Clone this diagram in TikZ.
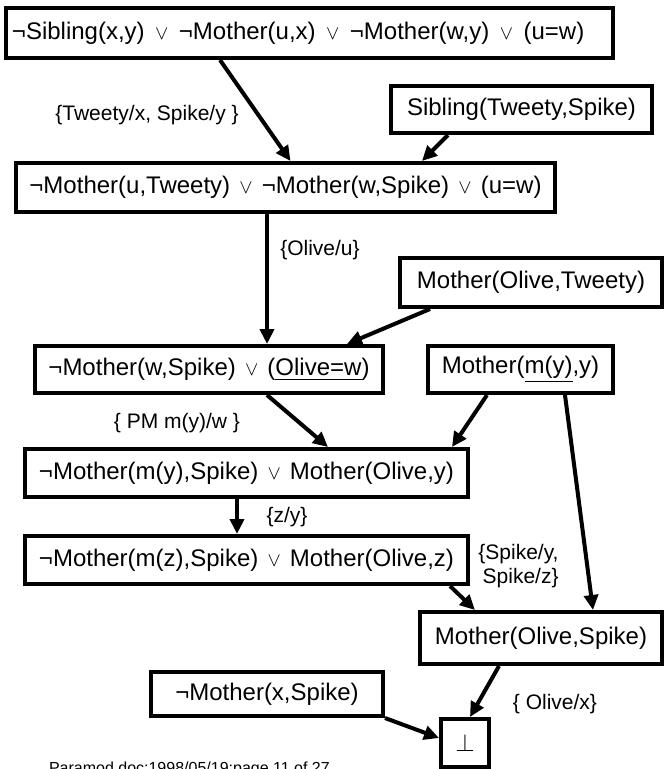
\documentclass[tikz,border=0pt]{standalone}
\usepackage{amsmath,amssymb}
\usepackage{fontspec}
\setmainfont{Liberation Sans}
\usepackage{graphicx}
\usepackage{tikz}
\usetikzlibrary{arrows.meta}

\newcommand{\vor}{\hspace{2.5pt}\scalebox{0.8}{$\vee$}\hspace{2.5pt}}

\begin{document}
\begin{tikzpicture}[->,>={Triangle[length=15pt,width=14pt]},line width=4pt,
                    x=1pt,y=-1pt]
  \tikzstyle{clause}=[draw=black,rectangle,inner sep=0pt,font=\fontsize{24}{28}\selectfont]
  \tikzstyle{subst}=[inner sep=0pt,font=\fontsize{21}{24}\selectfont]

  \useasboundingbox (0,0) rectangle (665,769);

  \node[clause,minimum width=607pt,minimum height=50pt,text width=595pt,align=left] (top) at (309.5,33) {¬Sibling(x,y) \vor{} ¬Mother(u,x) \vor{} ¬Mother(w,y) \vor{} (u=w)};
  \node[clause,minimum width=261pt,minimum height=47pt] (sib)  at (521.5,109.5) {Sibling(Tweety,Spike)};
  \node[clause,minimum width=539pt,minimum height=49pt] (mut)  at (285.5,187.5) {¬Mother(u,Tweety) \vor{} ¬Mother(w,Spike) \vor{} (u=w)};
  \node[clause,minimum width=262pt,minimum height=49pt] (mot)  at (531,282.5) {Mother(Olive,Tweety)};
  \node[clause,minimum width=348pt,minimum height=47pt] (mws)  at (209,369.5) {¬Mother(w,Spike) \vor{} (\underline{Olive=w})};
  \node[clause,minimum width=185pt,minimum height=47pt] (mmy)  at (520.5,369.5) {Mother(\underline{m(y)},y)};
  \node[clause,minimum width=443pt,minimum height=48pt] (pmy)  at (246.5,473) {¬Mother(m(y),Spike) \vor{} Mother(Olive,y)};
  \node[clause,minimum width=443pt,minimum height=48pt] (pmz)  at (246.5,560) {¬Mother(m(z),Spike) \vor{} Mother(Olive,z)};
  \node[clause,minimum width=242pt,minimum height=52pt] (mos)  at (541,638) {Mother(Olive,Spike)};
  \node[clause,minimum width=232pt,minimum height=44pt] (nmx)  at (267,694) {¬Mother(x,Spike)};
  \node[clause,minimum width=48pt,minimum height=48pt]  (bot)  at (465,743) {\fontsize{30}{32}\selectfont$\perp$};

  \node[subst] (s1) at (147,115) {\{Tweety/x, Spike/y \}};
  \node[subst] (s2) at (320,250) {\{Olive/u\}};
  \node[subst] (s3) at (177,423) {\{ PM m(y)/w \}};
  \node[subst] (s4) at (287,517) {\{z/y\}};
  \node[subst,align=right] (s5) at (518.5,566) {\{Spike/y,\\ Spike/z\}};
  \node[subst] (s6) at (555,704) {\{ Olive/x\}};

  \node[anchor=base west,inner sep=0pt,font=\fontsize{16}{19}\selectfont] (foot) at (47,773) {Paramod.doc:1998/05/19:page 11 of 27};

  \draw ([xshift=-89.5pt]top.south) -- ([xshift=5pt]mut.north);
  \draw ([xshift=-73.5pt]sib.south) -- ([xshift=136.5pt]mut.north);
  \draw ([xshift=-18.5pt]mut.south) -- ([xshift=58pt]mws.north);
  \draw ([xshift=-101pt]mot.south)  -- ([xshift=138pt]mws.north);
  \draw ([xshift=58pt]mws.south)    -- ([xshift=81.5pt]pmy.north);
  \draw ([xshift=-33.5pt]mmy.south) -- ([xshift=205.5pt]pmy.north);
  \draw ([xshift=44.5pt]mmy.south)  -- ([xshift=52pt]mos.north);
  \draw ([xshift=-9.5pt]pmy.south)  -- ([xshift=-9.5pt]pmz.north);
  \draw ([xshift=203.5pt]pmz.south) -- ([xshift=-66pt]mos.north);
  \draw ([xshift=-42pt]mos.south)   -- ([xshift=5pt]bot.north);
  \draw (nmx.south east) -- ([yshift=5pt]bot.west);
\end{tikzpicture}
\end{document}
